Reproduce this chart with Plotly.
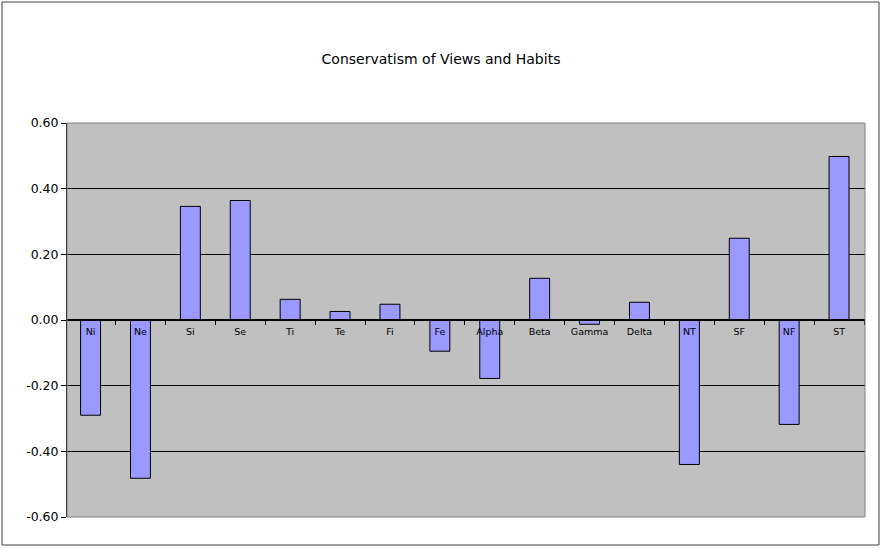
import plotly.graph_objects as go

categories = ["Ni", "Ne", "Si", "Se", "Ti", "Te", "Fi", "Fe", "Alpha", "Beta",
              "Gamma", "Delta", "NT", "SF", "NF", "ST"]
values = [-0.290, -0.482, 0.346, 0.364, 0.063, 0.026, 0.048, -0.095, -0.178, 0.127,
          -0.013, 0.054, -0.440, 0.249, -0.318, 0.498]
y_ticks = [-0.6, -0.4, -0.2, 0.0, 0.2, 0.4, 0.6]
y_tick_labels = ["-0.60", "-0.40", "-0.20", "0.00", "0.20", "0.40", "0.60"]
title_text = "Conservatism of Views and Habits"

W, H = 882, 548
ml, mr, mt, mb = 67, 17, 123, 31
pw, ph = W - ml - mr, H - mt - mb

fig = go.Figure()
fig.add_trace(go.Bar(
    x=categories, y=values, width=0.4,
    marker=dict(color="#9999FF", line=dict(color="black", width=1)),
    showlegend=False, hoverinfo="x+y",
))

fig.update_layout(
    width=W, height=H,
    margin=dict(l=ml, r=mr, t=mt, b=mb, pad=0),
    paper_bgcolor="white", plot_bgcolor="#C0C0C0",
    font=dict(family="DejaVu Sans", color="black"),
    title=dict(text=title_text, x=0.5, xanchor="center", y=1 - 59 / H, yanchor="middle",
               yref="container", font=dict(size=14, color="black")),
    xaxis=dict(
        anchor="free", position=0.5, showline=True, linecolor="black", linewidth=2,
        ticks="outside", tickson="boundaries", ticklen=4, tickcolor="black",
        ticklabelstandoff=3,
        tickfont=dict(size=9.5, color="black"), showgrid=False, zeroline=False,
        range=[-0.472, len(categories) - 0.48],
    ),
    yaxis=dict(
        range=[-0.6, 0.6], tickvals=y_ticks, ticktext=y_tick_labels,
        showline=True, linecolor="black", linewidth=1, mirror=False,
        ticks="outside", ticklen=5, tickcolor="black",
        tickfont=dict(size=12.5, color="black"),
        showgrid=True, gridcolor="black", gridwidth=1, zeroline=False,
    ),
    shapes=[
        dict(type="rect", xref="paper", yref="paper", x0=0, x1=1, y0=0, y1=1,
             line=dict(color="#808080", width=1), layer="above"),
        dict(type="rect", xref="paper", yref="paper",
             x0=(2 - ml) / pw, x1=(879 - ml) / pw,
             y0=((H - mb) - 545) / ph, y1=((H - mb) - 2) / ph,
             line=dict(color="#404040", width=1)),
    ],
)

fig.write_html("out.html", config={"displayModeBar": False},
               post_script="document.body.style.margin='0';")
